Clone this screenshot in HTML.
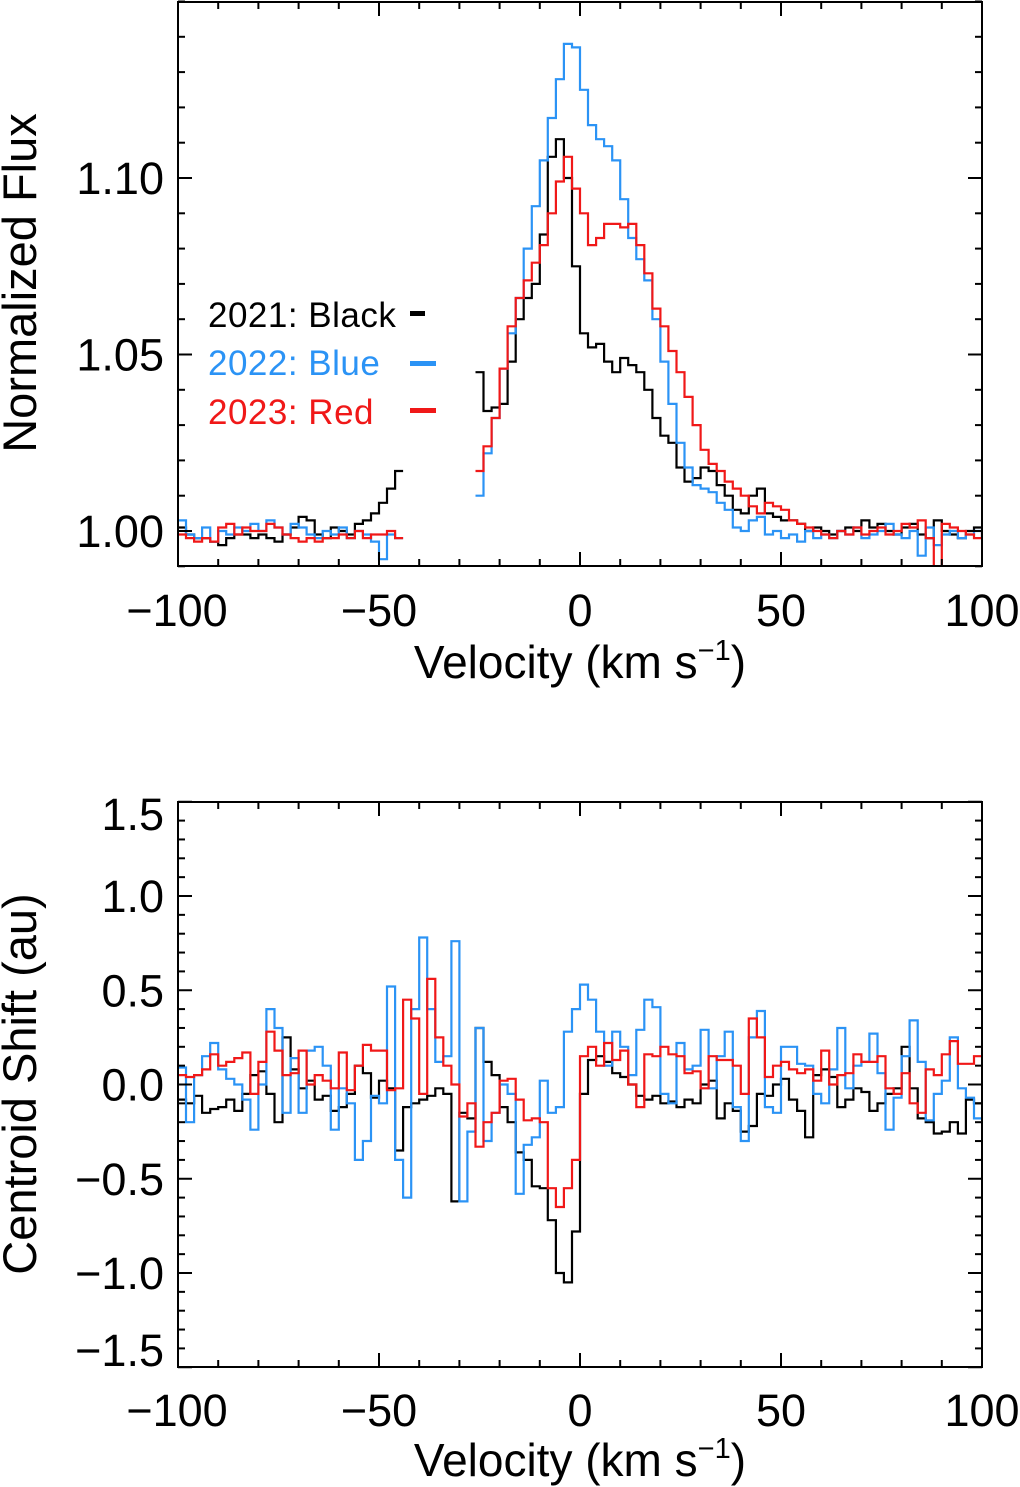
<!DOCTYPE html>
<html><head><meta charset="utf-8"><style>
html,body{margin:0;padding:0;background:#fff;}
svg{display:block;font-family:"Liberation Sans",sans-serif;}
</style></head><body>
<svg id="fig" width="1020" height="1487" viewBox="0 0 1020 1487" xmlns="http://www.w3.org/2000/svg">
<defs>
<clipPath id="clipTop"><rect x="178" y="2" width="804" height="564"/></clipPath>
<clipPath id="clipBot"><rect x="178" y="802" width="804" height="565"/></clipPath>
</defs>
<g id="top"></g>
<g id="bot"></g>
<g>
<text x="208" y="327" font-size="35" letter-spacing="0.5" fill="#000">2021: Black</text>
<rect x="410" y="311" width="15" height="5" fill="#000"/>
<text x="208" y="375" font-size="35" letter-spacing="0.5" fill="#2b93f5">2022: Blue</text>
<rect x="410" y="361" width="26" height="5" fill="#2b93f5"/>
<text x="208" y="424" font-size="35" letter-spacing="0.5" fill="#f01818">2023: Red</text>
<rect x="410" y="408" width="26" height="5" fill="#f01818"/>
</g>
</svg>
<script>
const velStart = -100, velStep = 2;
const fluxBlack = [1.001,0.999,0.998,0.998,0.997,0.996,0.998,0.999,0.999,0.998,0.999,0.998,0.997,0.999,1.001,1.004,1.003,0.999,0.998,1.001,1.000,0.999,1.002,1.003,1.005,1.008,1.012,1.017,
null,null,null,null,null,null,null,null,null,
1.045,1.034,1.035,1.036,1.048,1.060,1.066,1.070,1.084,1.106,1.111,1.100,1.075,1.056,1.052,1.053,1.048,1.045,1.049,1.047,1.045,1.040,1.032,1.027,1.025,1.018,1.014,1.015,1.018,1.017,1.013,1.010,1.006,1.005,1.010,1.012,1.005,1.004,1.003,1.003,1.002,1.000,1.001,1.000,0.999,1.000,1.001,1.000,1.003,1.001,1.002,1.000,0.999,1.001,1.002,0.999,0.998,1.003,1.000,0.999,0.998,1.000,1.001];
const fluxBlue = [1.003,0.999,0.998,1.001,0.997,1.000,0.999,1.001,1.000,1.002,1.000,1.003,1.001,0.999,1.002,1.001,0.999,0.998,1.000,0.999,1.001,0.998,1.000,0.999,0.997,0.992,0.999,0.998,
null,null,null,null,null,null,null,null,null,
1.010,1.022,1.032,1.046,1.056,1.066,1.080,1.092,1.105,1.117,1.128,1.138,1.137,1.125,1.115,1.111,1.109,1.105,1.094,1.083,1.077,1.071,1.060,1.048,1.036,1.025,1.018,1.013,1.012,1.011,1.008,1.006,1.001,1.000,1.003,1.004,0.999,1.000,0.998,0.999,0.997,1.000,0.998,0.999,0.998,1.000,0.999,1.001,0.998,0.999,1.000,1.002,0.999,0.998,1.000,0.993,1.001,0.996,0.999,1.000,0.998,0.999,1.000,0.998];
const fluxRed = [0.999,0.998,0.997,0.998,0.997,1.001,1.002,0.999,1.001,1.000,1.000,1.002,1.001,0.999,0.998,0.997,0.998,0.997,0.998,0.998,0.999,0.998,1.000,0.998,0.999,0.999,1.000,0.998,
null,null,null,null,null,null,null,null,null,
1.017,1.024,1.032,1.046,1.058,1.066,1.071,1.076,1.081,1.090,1.099,1.106,1.097,1.090,1.081,1.083,1.087,1.087,1.086,1.087,1.081,1.073,1.063,1.058,1.051,1.045,1.038,1.030,1.023,1.019,1.017,1.014,1.012,1.010,1.007,1.005,1.008,1.007,1.006,1.003,1.002,1.001,1.000,0.999,0.998,1.000,0.999,1.001,0.999,1.000,1.001,0.999,1.000,1.002,1.001,1.003,0.998,0.990,1.002,1.001,1.000,0.999,0.998,1.000];
const shiftBlack = [-0.08,-0.10,-0.06,-0.15,-0.13,-0.12,-0.08,-0.14,-0.05,0.05,0.07,-0.05,-0.20,0.25,0.08,-0.02,0.02,-0.08,-0.06,-0.14,-0.12,-0.05,0.10,0.06,-0.07,0.02,-0.02,-0.35,-0.12,-0.10,-0.08,-0.06,-0.02,-0.05,-0.62,-0.15,-0.18,0.30,0.12,0.05,-0.12,-0.20,-0.36,-0.40,-0.54,-0.55,-0.72,-1.00,-1.05,-0.78,
-0.05,0.13,0.15,0.12,0.06,0.04,0.00,-0.06,-0.08,-0.06,-0.10,-0.09,-0.12,-0.08,-0.10,0.00,0.02,-0.18,-0.10,-0.14,-0.25,-0.22,-0.05,-0.06,0.00,0.03,-0.08,-0.14,-0.28,0.05,0.08,0.04,-0.12,-0.08,-0.02,-0.04,-0.14,-0.10,-0.05,-0.02,0.20,-0.02,-0.18,-0.20,-0.26,-0.25,-0.20,-0.26,-0.08,-0.10];
const shiftBlue = [0.09,-0.20,0.05,0.15,0.22,0.08,0.03,0.00,-0.08,-0.24,0.00,0.40,0.30,-0.15,0.14,-0.15,0.18,0.20,0.10,-0.24,-0.02,-0.10,-0.40,-0.30,-0.06,-0.10,0.52,-0.40,-0.60,0.40,0.78,0.40,0.12,0.15,0.76,-0.62,-0.25,0.30,-0.30,-0.15,0.00,-0.05,-0.58,-0.32,-0.28,0.02,-0.15,-0.12,0.28,0.40,
0.53,0.45,0.28,0.10,0.28,0.20,0.05,0.29,0.45,0.41,-0.05,-0.10,0.22,0.08,0.10,0.29,-0.02,0.15,0.28,-0.12,-0.30,0.25,0.39,-0.12,-0.15,0.20,0.20,0.11,0.10,-0.05,-0.10,0.08,0.30,-0.02,0.10,0.12,0.27,0.06,-0.24,-0.07,0.15,0.34,0.12,-0.19,-0.05,0.02,0.25,-0.02,-0.07,-0.18];
const shiftRed = [0.05,0.04,0.05,0.08,0.16,0.10,0.12,0.14,0.17,-0.05,0.12,0.28,0.18,0.05,0.06,0.18,0.00,0.05,0.02,-0.02,0.17,-0.03,0.10,0.21,0.18,0.18,-0.03,-0.02,0.45,0.35,-0.05,0.56,0.25,0.10,0.00,-0.17,-0.10,-0.33,-0.20,-0.15,0.02,0.03,-0.08,-0.19,-0.18,-0.20,-0.55,-0.65,-0.55,-0.40,
0.15,0.20,0.10,0.22,0.13,0.18,0.00,-0.12,0.16,0.15,0.20,0.16,0.15,0.06,0.07,-0.02,0.15,0.13,0.13,0.10,-0.05,0.35,0.25,0.04,0.10,0.12,0.08,0.06,0.08,0.02,0.18,0.00,0.05,0.06,0.16,0.12,0.12,0.15,-0.02,-0.05,0.06,-0.10,-0.15,0.08,0.05,0.16,0.23,0.11,0.11,0.15];
const xTickLabels = ["\u2212100","\u221250","0","50","100"];
const xTicks = [-100,-50,0,50,100];
const topYTicks = [1.00,1.05,1.10];
const topYLabels = ["1.00","1.05","1.10"];
const botYTicks = [1.5,1.0,0.5,0.0,-0.5,-1.0,-1.5];
const botYLabels = ["1.5","1.0","0.5","0.0","\u22120.5","\u22121.0","\u22121.5"];

const NS="http://www.w3.org/2000/svg";
const X0=178,X1=982;
function xs(v){return X0+(v+100)/200*(X1-X0);}
function yTop(f){return 531-(f-1.0)*3530;}
function yBot(c){return 1084.5-c*188.5;}
function mk(tag,attrs,parent){const e=document.createElementNS(NS,tag);for(const k in attrs)e.setAttribute(k,attrs[k]);parent.appendChild(e);return e;}

function stepPath(vals,ys){
  let d="",open=false;
  for(let i=0;i<vals.length;i++){
    const v=velStart+i*velStep, val=vals[i];
    if(val===null){open=false;continue;}
    const y=ys(val).toFixed(1);
    if(!open){d+="M"+xs(v).toFixed(1)+" "+y;open=true;}
    else d+="V"+y;
    d+="H"+xs(v+velStep).toFixed(1);
  }
  return d;
}

function panel(g,top,bot,ys,yMin,yMax,minorStep,majors,labels,clip,series,names,xlabY,ticklabY,labAdjust){
  const sg=mk("g",{"clip-path":"url(#"+clip+")"},g);
  series.forEach((s,i)=>{
    const p=mk("path",{d:stepPath(s[0],ys),fill:"none",stroke:s[1],"stroke-width":2.2,"stroke-linejoin":"miter"},sg);
    
    
  });
  const fr=mk("rect",{x:X0,y:top,width:X1-X0,height:bot-top,fill:"none",stroke:"#000","stroke-width":2},g);
  
  
  const tg=mk("g",{stroke:"#000","stroke-width":2},g);
  for(let v=-100;v<=100;v+=10){
    const L=(v%50===0)?14:7, x=xs(v);
    mk("line",{x1:x,y1:bot,x2:x,y2:bot-L},tg);
    mk("line",{x1:x,y1:top,x2:x,y2:top+L},tg);
  }
  const n=Math.round((yMax-yMin)/minorStep);
  for(let k=0;k<=n;k++){
    const val=yMin+k*minorStep, y=ys(val);
    if(y<top-0.5||y>bot+0.5)continue;
    const isMaj=majors.some(m=>Math.abs(m-val)<1e-6);
    const L=isMaj?14:7;
    mk("line",{x1:X0,y1:y,x2:X0+L,y2:y},tg);
    mk("line",{x1:X1,y1:y,x2:X1-L,y2:y},tg);
  }
  xTicks.forEach((v,i)=>{
    const t=mk("text",{x:xs(v)+(i===0?-1:0),y:ticklabY,"font-size":45,"text-anchor":"middle"},g);
    t.textContent=xTickLabels[i];
    
    
  });
  majors.forEach((m,i)=>{
    let y=ys(m)+16;
    y=labAdjust(y);
    const t=mk("text",{x:164,y:y,"font-size":45,"text-anchor":"end"},g);
    t.textContent=labels[i];
    
    
  });
  const xl=mk("text",{x:580,y:xlabY,"font-size":46,"text-anchor":"middle"},g);
  xl.innerHTML='Velocity (km s<tspan dy="-18" font-size="29">\u22121</tspan><tspan dy="18">)</tspan>';
  
  
}

const topG=document.getElementById("top"), botG=document.getElementById("bot");
panel(topG,2,566,yTop,0.99,1.15,0.01,topYTicks,topYLabels,"clipTop",
  [[fluxBlack,"#000"],[fluxBlue,"#2b93f5"],[fluxRed,"#f01818"]],
  ["flux-line-2021","flux-line-2022","flux-line-2023"],678,626,y=>y);
panel(botG,802,1367,yBot,-1.5,1.5,0.1,botYTicks,botYLabels,"clipBot",
  [[shiftBlack,"#000"],[shiftBlue,"#2b93f5"],[shiftRed,"#f01818"]],
  ["shift-line-2021","shift-line-2022","shift-line-2023"],1476,1426,y=>Math.min(Math.max(y,830),1366));

const yt1=mk("text",{x:0,y:0,"font-size":47,"text-anchor":"middle",transform:"translate(36,283) rotate(-90)"},topG);
yt1.textContent="Normalized Flux";


const yt2=mk("text",{x:0,y:0,"font-size":47,"text-anchor":"middle",transform:"translate(36,1084) rotate(-90)"},botG);
yt2.textContent="Centroid Shift (au)";


</script>
</body></html>
